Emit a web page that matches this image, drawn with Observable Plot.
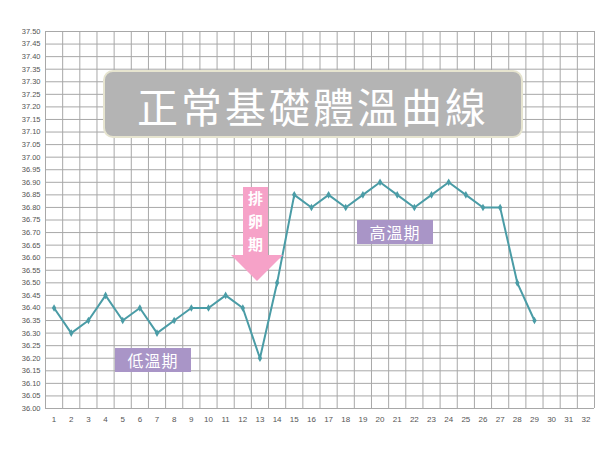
<!DOCTYPE html>
<html><head><meta charset="utf-8">
<script src="https://cdn.jsdelivr.net/npm/d3@7"></script>
<script src="https://cdn.jsdelivr.net/npm/@observablehq/plot@0.6"></script>
<style>
body{margin:0;background:#fff;font-family:"Noto Sans CJK TC","Noto Sans",sans-serif;}
#wrap{position:relative;width:600px;height:450px;overflow:hidden;}
.title{position:absolute;left:103px;top:70px;width:420px;height:68px;background:#b4b4b4;border-radius:10px;border:2px solid #e6e4cf;box-sizing:border-box;color:#fff;font-family:"Noto Sans CJK TC";font-weight:400;font-size:41px;line-height:66px;text-align:center;letter-spacing:3px;}
.tag{position:absolute;height:24px;width:76px;background:#a995c7;color:#fff;font-family:"Noto Sans CJK TC";font-size:16px;line-height:24px;text-align:center;letter-spacing:1px;}
svg.arrow{position:absolute;left:0;top:0;}
</style></head>
<body><div id="wrap"></div>
<script>
const days = [1,2,3,4,5,6,7,8,9,10,11,12,13,14,15,16,17,18,19,20,21,22,23,24,25,26,27,28,29];
const temps = [36.40,36.30,36.35,36.45,36.35,36.40,36.30,36.35,36.40,36.40,36.45,36.40,36.20,36.50,36.85,36.80,36.85,36.80,36.85,36.90,36.85,36.80,36.85,36.90,36.85,36.80,36.80,36.50,36.35];
const xTicks = d3.range(1, 33);
const yTicks = d3.range(0, 31).map(i => +(36 + i * 0.05).toFixed(2));
const titleText = "正常基礎體溫曲線";
const ovulationText = ["排","卵","期"];
const lowLabel = "低溫期";
const highLabel = "高溫期";

const data = days.map((d, i) => ({day: d, temp: temps[i]}));
const xGrid = d3.range(0, 33).map(i => i + 0.5);

const chart = Plot.plot({
  width: 600, height: 450,
  marginLeft: 45, marginRight: 6, marginTop: 31, marginBottom: 42,
  style: {background: "#fff", fontFamily: "Liberation Sans, Arial, sans-serif"},
  x: {type: "linear", domain: [0.5, 32.5], ticks: xTicks, tickFormat: d => d, tickSize: 0, tickPadding: 8, label: null},
  y: {domain: [36, 37.5], ticks: yTicks, tickFormat: d => d.toFixed(2), tickSize: 0, tickPadding: 5, label: null},
  marks: [
    Plot.ruleY(yTicks, {stroke: "#a8a8a8", strokeWidth: 1}),
    Plot.ruleX(xGrid, {stroke: "#a8a8a8", strokeWidth: 1}),
    Plot.axisX({ticks: xTicks, tickFormat: d => d, tickSize: 0, tickPadding: 8, fontSize: 8, fill: "#555", label: null}),
    Plot.axisY({ticks: yTicks, tickFormat: d => d.toFixed(2), tickSize: 0, tickPadding: 5, fontSize: 7.5, fill: "#555", label: null}),
    Plot.line(data, {x: "day", y: "temp", stroke: "#4a9ca6", strokeWidth: 2}),
    Plot.dot(data, {x: "day", y: "temp", symbol: "diamond", r: 2.3, fill: "#4a9ca6"})
  ]
});
const wrap = document.getElementById("wrap");
wrap.appendChild(chart);

const t = document.createElement("div");
t.className = "title"; t.textContent = titleText; wrap.appendChild(t);

const lo = document.createElement("div");
lo.className = "tag"; lo.style.left = "115px"; lo.style.top = "348px"; lo.textContent = lowLabel; wrap.appendChild(lo);
const hi = document.createElement("div");
hi.className = "tag"; hi.style.left = "357px"; hi.style.top = "220px"; hi.textContent = highLabel; wrap.appendChild(hi);

const ns = "http://www.w3.org/2000/svg";
const a = document.createElementNS(ns, "svg");
a.setAttribute("class", "arrow"); a.setAttribute("width", 600); a.setAttribute("height", 450);
const poly = document.createElementNS(ns, "polygon");
poly.setAttribute("points", "243,187 268,187 268,255 283,255 257,281 231,255 243,255");
poly.setAttribute("fill", "#f6a2c8");
a.appendChild(poly);
ovulationText.forEach((ch, i) => {
  const tx = document.createElementNS(ns, "text");
  tx.setAttribute("x", 255.5); tx.setAttribute("y", 204 + i * 23);
  tx.setAttribute("text-anchor", "middle");
  tx.setAttribute("fill", "#fff");
  tx.setAttribute("font-size", 15);
  tx.setAttribute("font-weight", 700);
  tx.setAttribute("font-family", "Noto Sans CJK TC");
  tx.textContent = ch;
  a.appendChild(tx);
});
wrap.appendChild(a);
</script></body></html>
